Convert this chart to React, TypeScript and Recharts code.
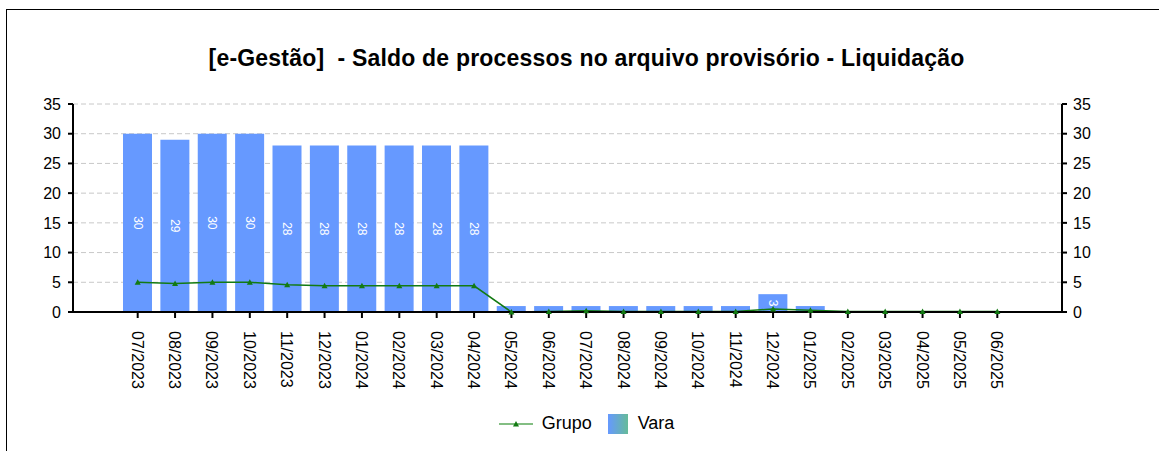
import React from 'react';
import { ComposedChart, Bar, Line, XAxis, YAxis, CartesianGrid, Legend, LabelList } from 'recharts';

const months = [
    '07/2023', '08/2023', '09/2023', '10/2023', '11/2023', '12/2023',
    '01/2024', '02/2024', '03/2024', '04/2024', '05/2024', '06/2024',
    '07/2024', '08/2024', '09/2024', '10/2024', '11/2024', '12/2024',
    '01/2025', '02/2025', '03/2025', '04/2025', '05/2025', '06/2025',
];
const vara = [30, 29, 30, 30, 28, 28, 28, 28, 28, 28, 1, 1, 1, 1, 1, 1, 1, 3, 1, 0, 0, 0, 0, 0];
const grupo = [5, 4.8, 5, 5, 4.6, 4.4, 4.4, 4.4, 4.4, 4.4, 0, 0.1, 0.2, 0.1, 0.1, 0.1, 0.1, 0.5, 0.3, 0.1, 0.1, 0.1, 0.1, 0.1];
const yTicks = [0, 5, 10, 15, 20, 25, 30, 35];

const FONT = 'Arial, "Liberation Sans", sans-serif';
const BAR_COLOR = '#6699ff';
const LINE_COLOR = '#137a13';

const data = months.map((m, i) => ({ name: m, Vara: vara[i], Grupo: grupo[i] }));

const MonthTick = ({ x, y, payload }: any) => (
    <text
        transform={`translate(${x - 6},${y + 11}) rotate(90)`}
        textAnchor="start"
        fontSize={16}
        fontFamily={FONT}
        fill="#000"
    >
        {payload.value}
    </text>
);

const BarValue = ({ x, y, width, height, value }: any) => {
    if (value < 2) return null;
    const cx = x + width / 2;
    const cy = y + height / 2;
    return (
        <text
            transform={`translate(${cx - 4},${cy}) rotate(90)`}
            textAnchor="middle"
            fontSize={12}
            fontFamily={FONT}
            fill="#fff"
        >
            {value}
        </text>
    );
};

const Triangle = ({ cx, cy }: any) => {
    if (cx == null || cy == null) return null;
    return <path d={`M${cx - 3},${cy + 2.5} L${cx + 3},${cy + 2.5} L${cx},${cy - 3} Z`} fill={LINE_COLOR} />;
};

const LegendBox = () => (
    <div style={{ display: 'flex', justifyContent: 'center', alignItems: 'center', fontFamily: FONT, fontSize: 18, paddingLeft: 38, paddingTop: 1 }}>
        <svg width={34} height={10} style={{ marginRight: 9 }}>
            <line x1={0} y1={5} x2={34} y2={5} stroke="#5aa85a" strokeWidth={1.5} />
            <path d="M14,7.5 L20,7.5 L17,2 Z" fill={LINE_COLOR} />
        </svg>
        <span style={{ marginRight: 16 }}>Grupo</span>
        <svg width={20} height={20} style={{ marginRight: 10 }}>
            <defs>
                <linearGradient id="varaGrad" x1="0" y1="0" x2="1" y2="0">
                    <stop offset="0%" stopColor="#6699ff" />
                    <stop offset="100%" stopColor="#66bb99" />
                </linearGradient>
            </defs>
            <rect x={0} y={0} width={20} height={20} fill="url(#varaGrad)" />
        </svg>
        <span>Vara</span>
    </div>
);

export default function App() {
    return (
        <div style={{ position: 'fixed', left: 0, top: 0, width: 1159, height: 451, background: '#fff', overflow: 'hidden' }}>
            <div style={{ position: 'absolute', left: 6, top: 9, width: 1200, height: 500, borderTop: '1.5px solid #000', borderLeft: '1.5px solid #000' }} />
            <div style={{ position: 'absolute', left: 7, top: 45, width: 1159, textAlign: 'center', fontFamily: FONT, fontWeight: 'bold', fontSize: 23, letterSpacing: 0.2, whiteSpace: 'pre' }}>
                {'[e-Gestão]  - Saldo de processos no arquivo provisório - Liquidação'}
            </div>
            <div style={{ position: 'absolute', left: 0, top: 0 }}>
                <ComposedChart width={1159} height={451} data={data} margin={{ top: 104, right: 37, left: 13, bottom: 9 }}>
                    <CartesianGrid vertical={false} yAxisId="left" stroke="#c8c8c8" strokeDasharray="5 3" />
                    <XAxis
                        dataKey="name"
                        interval={0}
                        height={100}
                        padding={{ left: 46, right: 46 }}
                        tick={<MonthTick />}
                        tickSize={6}
                        axisLine={{ stroke: '#000', strokeWidth: 2 }}
                        tickLine={{ stroke: '#000', strokeWidth: 2 }}
                    />
                    <YAxis
                        yAxisId="left"
                        domain={[0, 35]}
                        ticks={yTicks}
                        width={60}
                        tickSize={5}
                        axisLine={{ stroke: '#000', strokeWidth: 2 }}
                        tickLine={{ stroke: '#000', strokeWidth: 2 }}
                        tick={{ fill: '#000', fontSize: 16, fontFamily: FONT, dx: -5 }}
                    />
                    <YAxis
                        yAxisId="right"
                        orientation="right"
                        domain={[0, 35]}
                        ticks={yTicks}
                        width={60}
                        tickSize={5}
                        axisLine={{ stroke: '#000', strokeWidth: 2 }}
                        tickLine={{ stroke: '#000', strokeWidth: 2 }}
                        tick={{ fill: '#000', fontSize: 16, fontFamily: FONT, dx: 4 }}
                    />
                    <Legend verticalAlign="bottom" content={<LegendBox />} wrapperStyle={{ height: 30 }} />
                    <Bar yAxisId="left" dataKey="Vara" fill={BAR_COLOR} barSize={29} isAnimationActive={false}>
                        <LabelList dataKey="Vara" content={<BarValue />} />
                    </Bar>
                    <Line
                        yAxisId="right"
                        type="linear"
                        dataKey="Grupo"
                        stroke={LINE_COLOR}
                        strokeWidth={1.5}
                        dot={<Triangle />}
                        activeDot={false}
                        isAnimationActive={false}
                    />
                </ComposedChart>
            </div>
        </div>
    );
}
